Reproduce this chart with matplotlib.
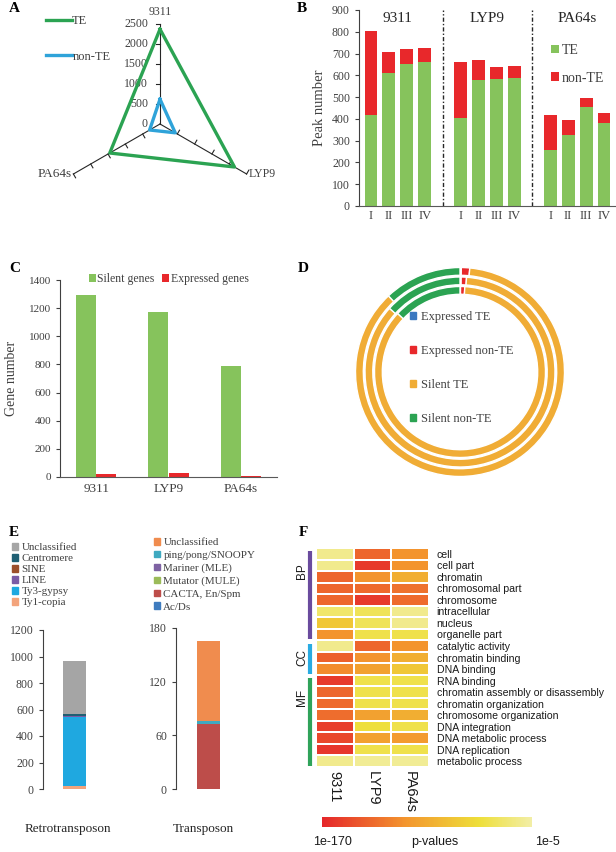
import numpy as np
import matplotlib
matplotlib.use('Agg')
import matplotlib.pyplot as plt
from matplotlib.colors import LinearSegmentedColormap
from matplotlib.patches import Patch

W, H = 616, 852
DPI = 100

# ---------------- data ----------------
radar_labels = ['9311', 'LYP9', 'PA64s']
radar_te = [2370, 2150, 1450]
radar_nonte = [620, 440, 300]
radar_ticks = [0, 500, 1000, 1500, 2000, 2500]

peak_strains = ['9311', 'LYP9', 'PA64s']
peak_stages = ['I', 'II', 'III', 'IV']
peak_te = [[420, 610, 652, 663], [405, 580, 585, 588], [255, 325, 455, 383]]
peak_nonte = [[385, 95, 70, 62], [255, 90, 53, 54], [165, 72, 40, 44]]
peak_yticks = [0, 100, 200, 300, 400, 500, 600, 700, 800, 900]

gene_strains = ['9311', 'LYP9', 'PA64s']
gene_silent = [1295, 1175, 790]
gene_expressed = [20, 25, 10]
gene_yticks = [0, 200, 400, 600, 800, 1000, 1200, 1400]

ring_labels = ['Expressed TE', 'Expressed non-TE', 'Silent TE', 'Silent non-TE']
ring_outer = [0.2, 1.3, 86.5, 12.0]
ring_middle = [0.2, 0.9, 85.6, 13.3]
ring_inner = [0.1, 0.8, 86.1, 13.0]

retro_classes = ['Ty1-copia', 'Ty3-gypsy', 'LINE', 'SINE', 'Centromere', 'Unclassified']
retro_counts = [20, 527, 2, 1, 15, 402]
retro_yticks = [0, 200, 400, 600, 800, 1000, 1200]
trans_classes = ['Ac/Ds', 'CACTA, En/Spm', 'Mutator (MULE)', 'Mariner (MLE)',
                 'ping/pong/SNOOPY', 'Unclassified']
trans_counts = [0.3, 72, 0.4, 0.3, 3, 89]
trans_yticks = [0, 60, 120, 180]

go_terms = ['cell', 'cell part', 'chromatin', 'chromosomal part', 'chromosome',
            'intracellular', 'nucleus', 'organelle part', 'catalytic activity',
            'chromatin binding', 'DNA binding', 'RNA binding',
            'chromatin assembly or disassembly', 'chromatin organization',
            'chromosome organization', 'DNA integration', 'DNA metabolic process',
            'DNA replication', 'metabolic process']
go_strains = ['9311', 'LYP9', 'PA64s']
go_log10p = [
    [-15, -132, -105],
    [-15, -158, -105],
    [-132, -105, -85],
    [-132, -130, -125],
    [-132, -158, -130],
    [-28, -35, -15],
    [-65, -35, -15],
    [-105, -40, -40],
    [-15, -132, -105],
    [-135, -105, -85],
    [-110, -95, -65],
    [-158, -40, -40],
    [-132, -40, -40],
    [-130, -40, -40],
    [-128, -95, -85],
    [-155, -45, -40],
    [-150, -95, -100],
    [-160, -40, -40],
    [-15, -12, -12],
]
go_groups = ['BP', 'CC', 'MF']
go_group_sizes = [8, 3, 8]
p_range = [-170, -5]
p_range_labels = ['1e-170', '1e-5']

# ---------------- style ----------------
SERIF = 'Liberation Serif'
SANS = 'Liberation Sans'
TXT = '#404040'
GREEN = '#86C35C'
RED = '#E8282B'
plt.rcParams['font.family'] = SERIF
plt.rcParams['axes.linewidth'] = 0.8

fig = plt.figure(figsize=(W / DPI, H / DPI), dpi=DPI)


def rect(l, t, r, b):
    return [l / W, 1 - b / H, (r - l) / W, (b - t) / H]


def fxy(x, y):
    return (x / W, 1 - y / H)


def excel_axes(ax):
    for s in ['top', 'right']:
        ax.spines[s].set_visible(False)
    ax.spines['left'].set_color('#404040')
    ax.spines['bottom'].set_color('#595959')
    ax.tick_params(axis='y', direction='out', length=3, width=0.8, colors='#404040',
                   labelcolor=TXT)
    ax.tick_params(axis='x', length=0, labelcolor=TXT)


# panel letters
for letter, (x, y) in zip('ABCDEF', [(9, 9), (297, 9), (9, 268), (298, 268), (9, 533), (299, 533)]):
    fig.text(*fxy(x, y), letter, fontsize=11, fontweight='bold', ha='left', va='center')

# ---------------- A: radar ----------------
axA = fig.add_axes(rect(0, 0, 300, 210))
axA.set_xlim(-4000, 3500)
axA.set_ylim(-2150, 3100)
axA.axis('off')
ang = np.deg2rad([90, -30, 210])
rmax = radar_ticks[-1]
for a in ang:
    axA.plot([0, rmax * np.cos(a)], [0, rmax * np.sin(a)], color='#262626', lw=0.8, zorder=1)
    for v in radar_ticks[1:]:
        px, py = v * np.cos(a), v * np.sin(a)
        nx, ny = np.cos(a + np.pi / 2), np.sin(a + np.pi / 2)
        axA.plot([px, px + 110 * nx], [py, py + 110 * ny], color='#262626', lw=0.8, zorder=1)
for v in radar_ticks:
    axA.text(-300, v, str(v), ha='right', va='center', fontsize=8.5, color=TXT)


def closed(vals):
    xs = [v * np.cos(a) for v, a in zip(vals, ang)]
    ys = [v * np.sin(a) for v, a in zip(vals, ang)]
    return xs + xs[:1], ys + ys[:1]


axA.plot(*closed(radar_te), color='#2BA352', lw=2.4, label='TE', zorder=3)
axA.plot(*closed(radar_nonte), color='#2FA3D9', lw=2.4, label='non-TE', zorder=3)
axA.text(0, rmax + 300, radar_labels[0], ha='center', va='center', fontsize=8.5, color=TXT)
axA.text(rmax * np.cos(ang[1]) + 60, rmax * np.sin(ang[1]), radar_labels[1],
         ha='left', va='center', fontsize=8.5, color=TXT)
axA.text(rmax * np.cos(ang[2]) - 40, rmax * np.sin(ang[2]), radar_labels[2],
         ha='right', va='center', fontsize=9.5, color=TXT)
axA.legend(loc='upper left', bbox_to_anchor=fxy(46, 15), bbox_transform=fig.transFigure,
           frameon=False, handlelength=2.1, handletextpad=0.0, labelspacing=1.9,
           fontsize=9, borderpad=0, borderaxespad=0, labelcolor=TXT)

# ---------------- B: stacked peaks ----------------
axB = fig.add_axes(rect(359, 10, 616, 206))
pos = np.array([[g * 5 + s for s in range(len(peak_stages))] for g in range(len(peak_strains))])
for g in range(len(peak_strains)):
    axB.bar(pos[g], peak_te[g], width=0.72, color=GREEN, label='TE' if g == 0 else None)
    axB.bar(pos[g], peak_nonte[g], bottom=peak_te[g], width=0.72, color=RED,
            label='non-TE' if g == 0 else None)
    axB.text(pos[g].mean(), 862, peak_strains[g], ha='center', va='center', fontsize=11,
             color='#262626')
for g in range(1, len(peak_strains)):
    axB.axvline(pos[g][0] - 1, color='#262626', lw=1.0, ls=(0, (3, 1.5, 1, 1.5)))
axB.set_xlim(-0.67, 13.67)
axB.set_ylim(0, 900)
axB.set_yticks(peak_yticks)
axB.set_xticks(pos.ravel(), peak_stages * len(peak_strains))
excel_axes(axB)
axB.tick_params(axis='y', labelsize=8.5)
axB.tick_params(axis='x', labelsize=9, pad=3)
axB.set_ylabel('Peak number', fontsize=10.5, color=TXT, labelpad=4)
axB.legend(loc='upper left', bbox_to_anchor=fxy(551, 44), bbox_transform=fig.transFigure,
           frameon=False, handlelength=0.55, handleheight=0.55, handletextpad=0.25,
           labelspacing=1.05, fontsize=10, borderpad=0, borderaxespad=0, labelcolor=TXT)

# ---------------- C: gene numbers ----------------
axC = fig.add_axes(rect(60, 280, 277, 477))
xc = np.arange(len(gene_strains))
axC.bar(xc - 0.14, gene_silent, width=0.28, color=GREEN, label='Silent genes')
axC.bar(xc + 0.14, gene_expressed, width=0.28, color=RED, label='Expressed genes')
axC.set_xlim(-0.5, len(gene_strains) - 0.5)
axC.set_ylim(0, 1400)
axC.set_yticks(gene_yticks)
axC.set_xticks(xc, gene_strains)
excel_axes(axC)
axC.tick_params(axis='y', labelsize=8)
axC.tick_params(axis='x', labelsize=9.5, pad=4)
axC.set_ylabel('Gene number', fontsize=10, color=TXT, labelpad=8)
axC.legend(ncol=2, loc='upper center', bbox_to_anchor=(0.5, 1.035), frameon=False,
           handlelength=0.6, handleheight=0.6, handletextpad=0.15, columnspacing=0.6,
           fontsize=8.5, borderpad=0, borderaxespad=0, labelcolor=TXT)

# ---------------- D: donut rings ----------------
axD = fig.add_axes(rect(350, 262, 570, 482))
ring_colors = ['#3B78C0', '#E8282B', '#F0AC35', '#2BA352']
for vals, r in zip([ring_outer, ring_middle, ring_inner], [1.045, 0.95, 0.855]):
    axD.pie(vals, radius=r, startangle=90, counterclock=False, colors=ring_colors,
            wedgeprops=dict(width=0.078, edgecolor='white', linewidth=1.0))
axD.set_xlim(-1.1, 1.1)
axD.set_ylim(-1.1, 1.1)
axD.set_aspect('equal')
axD.axis('off')
axD.legend([Patch(color=c) for c in ring_colors], ring_labels, loc='upper left',
           bbox_to_anchor=fxy(410, 311), bbox_transform=fig.transFigure, frameon=False,
           handlelength=0.45, handleheight=0.45, handletextpad=0.4, labelspacing=1.75,
           fontsize=9, borderpad=0, borderaxespad=0, labelcolor=TXT)

# ---------------- E: TE classes ----------------
retro_colors = ['#F3A47C', '#1FA8E0', '#7B5BA6', '#9C4F2C', '#1F5F73', '#A5A5A5']
trans_colors = ['#3F7CBF', '#BD4D4A', '#9BBB59', '#7E62A3', '#3FA9C0', '#F08C4E']

for (l, t, r, b), classes, counts, colors, yt, lab, labx, legpos, lsp in [
        ((43, 630, 110, 789), retro_classes, retro_counts, retro_colors, retro_yticks,
         'Retrotransposon', 68, (12, 543), 0.17),
        ((176, 628, 245, 789), trans_classes, trans_counts, trans_colors, trans_yticks,
         'Transposon', 203, (154, 538), 0.32)]:
    ax = fig.add_axes(rect(l, t, r, b))
    bottom = 0
    handles = []
    for cls, cnt, col in zip(classes, counts, colors):
        ax.bar([0], [cnt], bottom=bottom, width=0.6, color=col)
        bottom += cnt
        handles.append(Patch(color=col, label=cls))
    ax.set_xlim(-0.82, 0.93)
    ax.set_ylim(yt[0], yt[-1])
    ax.set_yticks(yt)
    ax.set_xticks([])
    excel_axes(ax)
    ax.spines['bottom'].set_visible(False)
    ax.tick_params(axis='y', labelsize=8.5)
    fig.text(*fxy(labx, 829), lab, ha='center', va='center', fontsize=9.5, color='#262626')
    ax.legend(handles=handles[::-1], loc='upper left', bbox_to_anchor=fxy(*legpos),
              bbox_transform=fig.transFigure, frameon=False, handlelength=0.55,
              handleheight=0.55, handletextpad=0.3, labelspacing=lsp,
              fontsize=7.9, borderpad=0, borderaxespad=0, labelcolor=TXT)

# ---------------- F: GO heatmap ----------------
cmap = LinearSegmentedColormap.from_list(
    'pv', [(0.0, '#E5262A'), (0.4, '#F3962E'), (0.75, '#EEDF3A'), (1.0, '#F2EEA6')])
axF = fig.add_axes(rect(316, 548, 429, 767))
data = np.array(go_log10p)
mesh = axF.pcolormesh(data, cmap=cmap, vmin=p_range[0], vmax=p_range[1],
                      edgecolors='white', linewidth=1.2)
axF.set_xlim(0, data.shape[1])
axF.set_ylim(data.shape[0], 0)
axF.set_yticks(np.arange(len(go_terms)) + 0.5, go_terms, fontfamily=SANS, fontsize=7.6)
axF.yaxis.tick_right()
axF.set_xticks(np.arange(len(go_strains)) + 0.5, go_strains, rotation=-90,
               fontfamily=SANS, fontsize=10.5)
axF.tick_params(length=0, colors='#1a1a1a')
axF.tick_params(axis='y', pad=5.5)
axF.tick_params(axis='x', pad=3)
for s in axF.spines.values():
    s.set_visible(False)

group_colors = ['#6A4B9E', '#29ABE2', '#2FA35A']
start = 0
for grp, size, col in zip(go_groups, go_group_sizes, group_colors):
    axF.plot([-0.17, -0.17], [start + 0.3, start + size - 0.1], color=col, lw=3,
             solid_capstyle='butt', clip_on=False)
    axF.text(-0.36, start + min(2.0, size / 2), grp, rotation=90, ha='center', va='center',
             fontfamily=SANS, fontsize=8.5, color='#1a1a1a')
    start += size

cax = fig.add_axes(rect(322, 817, 532, 827))
cb = fig.colorbar(mesh, cax=cax, orientation='horizontal')
cb.set_ticks([])
cb.outline.set_visible(False)
fig.text(*fxy(332, 842), p_range_labels[0], ha='center', va='center', fontfamily=SANS,
         fontsize=9, color='#1a1a1a')
fig.text(*fxy(435, 842), 'p-values', ha='center', va='center', fontfamily=SANS,
         fontsize=9, color='#1a1a1a')
fig.text(*fxy(547, 842), p_range_labels[1], ha='center', va='center', fontfamily=SANS,
         fontsize=9, color='#1a1a1a')

fig.savefig('out.png', dpi=DPI)
